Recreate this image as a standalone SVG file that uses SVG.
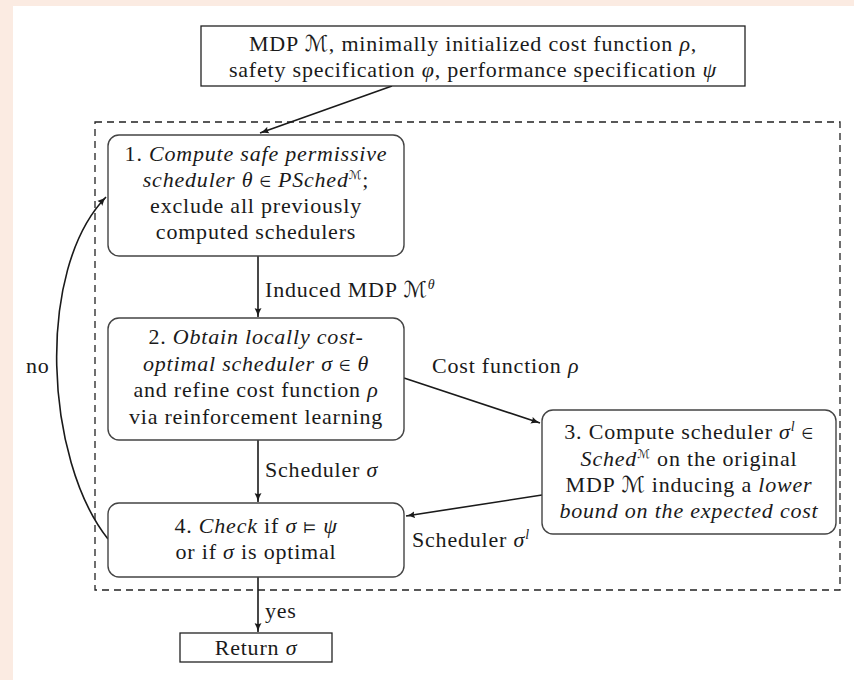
<svg xmlns="http://www.w3.org/2000/svg" width="854" height="680" viewBox="0 0 854 680" font-family="'Liberation Serif', 'Times New Roman', Times, Tinos, 'Nimbus Roman', FreeSerif, 'DejaVu Serif', 'Noto Serif', serif">
<defs>
<style>
text{font-family:'Liberation Serif','Times New Roman',Times,Tinos,'Nimbus Roman',FreeSerif,'DejaVu Serif','Noto Serif',serif;font-size:22px;fill:#1a1a1a;letter-spacing:0.8px;text-anchor:middle}
.l{text-anchor:start}
.i{font-style:italic}
.s{font-size:14px}
.box{fill:#fff;stroke:#444;stroke-width:1.4}
.rect{fill:#fff;stroke:#222;stroke-width:1.3}
.con{fill:none;stroke:#1a1a1a;stroke-width:1.6}
.m{font-family:'DejaVu Serif','DejaVu Sans','Liberation Serif',serif;font-style:italic}
.ms{font-size:12px}
</style>
<marker id="ar" markerWidth="10" markerHeight="8" refX="9" refY="4" orient="auto" markerUnits="userSpaceOnUse">
<path d="M0,0.5 Q4,3 9,4 Q4,5 0,7.5 Q2,4 0,0.5 Z" fill="#1a1a1a"/>
</marker>
</defs>
<rect x="0" y="0" width="854" height="680" fill="#fbebe2"/>
<rect x="13" y="6" width="841" height="674" fill="#fff"/>
<rect x="95" y="122" width="745" height="468" fill="none" stroke="#222" stroke-width="1.3" stroke-dasharray="7,5"/>
<g id="connectors">
<path class="con" d="M392,86 L260,133" marker-end="url(#ar)"/>
<path class="con" d="M258,256 L258,317" marker-end="url(#ar)"/>
<path class="con" d="M258,440 L258,502" marker-end="url(#ar)"/>
<path class="con" d="M404,378 L540,423" marker-end="url(#ar)"/>
<path class="con" d="M542,495 L406,516" marker-end="url(#ar)"/>
<path class="con" d="M108,539 C45,460 35,270 106,197" marker-end="url(#ar)"/>
<path class="con" d="M258,577 L258,632" marker-end="url(#ar)"/>
<text class="l" x="265" y="297">Induced MDP <tspan class="m">ℳ</tspan><tspan class="s i" dy="-8">θ</tspan></text>
<text class="l" x="265" y="477">Scheduler <tspan class="i">σ</tspan></text>
<text class="l" x="432" y="373">Cost function <tspan class="i">ρ</tspan></text>
<text class="l" x="412" y="547">Scheduler <tspan class="i">σ</tspan><tspan class="s i" dy="-8">l</tspan></text>
<text class="l" x="26" y="373">no</text>
<text class="l" x="265" y="618">yes</text>
</g>
<g id="input">
<rect class="rect" x="201" y="26" width="544" height="60"/>
<text x="473" y="51">MDP <tspan class="m">ℳ</tspan>, minimally initialized cost function <tspan class="i">ρ</tspan>,</text>
<text x="473" y="77">safety specification <tspan class="i">φ</tspan>, performance specification <tspan class="i">ψ</tspan></text>
</g>
<g id="step1">
<rect class="box" x="108" y="135" width="296" height="121" rx="11"/>
<text x="256" y="161">1. <tspan class="i">Compute safe permissive</tspan></text>
<text x="256" y="187"><tspan class="i">scheduler θ</tspan> ∈ <tspan class="i">PSched</tspan><tspan class="m ms" dy="-8">ℳ</tspan><tspan dy="8">;</tspan></text>
<text x="256" y="213">exclude all previously</text>
<text x="256" y="239">computed schedulers</text>
</g>
<g id="step2">
<rect class="box" x="108" y="318" width="296" height="122" rx="11"/>
<text x="256" y="344">2. <tspan class="i">Obtain locally cost-</tspan></text>
<text x="256" y="371"><tspan class="i">optimal scheduler σ</tspan> ∈ <tspan class="i">θ</tspan></text>
<text x="256" y="397">and refine cost function <tspan class="i">ρ</tspan></text>
<text x="256" y="424">via reinforcement learning</text>
</g>
<g id="step3">
<rect class="box" x="542" y="410" width="294" height="124" rx="11"/>
<text x="689" y="439">3. Compute scheduler <tspan class="i">σ</tspan><tspan class="s i" dy="-8">l</tspan><tspan dy="8"> ∈</tspan></text>
<text x="689" y="466"><tspan class="i">Sched</tspan><tspan class="m ms" dy="-8">ℳ</tspan><tspan dy="8"> on the original</tspan></text>
<text x="689" y="492">MDP <tspan class="m">ℳ</tspan> inducing a <tspan class="i">lower</tspan></text>
<text x="689" y="518" class="i">bound on the expected cost</text>
</g>
<g id="step4">
<rect class="box" x="108" y="503" width="296" height="74" rx="11"/>
<text x="256" y="533">4. <tspan class="i">Check</tspan> if <tspan class="i">σ</tspan> ⊨ <tspan class="i">ψ</tspan></text>
<text x="256" y="559">or if <tspan class="i">σ</tspan> is optimal</text>
</g>
<g id="return">
<rect class="rect" x="180" y="633" width="152" height="29"/>
<text x="256" y="655">Return <tspan class="i">σ</tspan></text>
</g>
</svg>
